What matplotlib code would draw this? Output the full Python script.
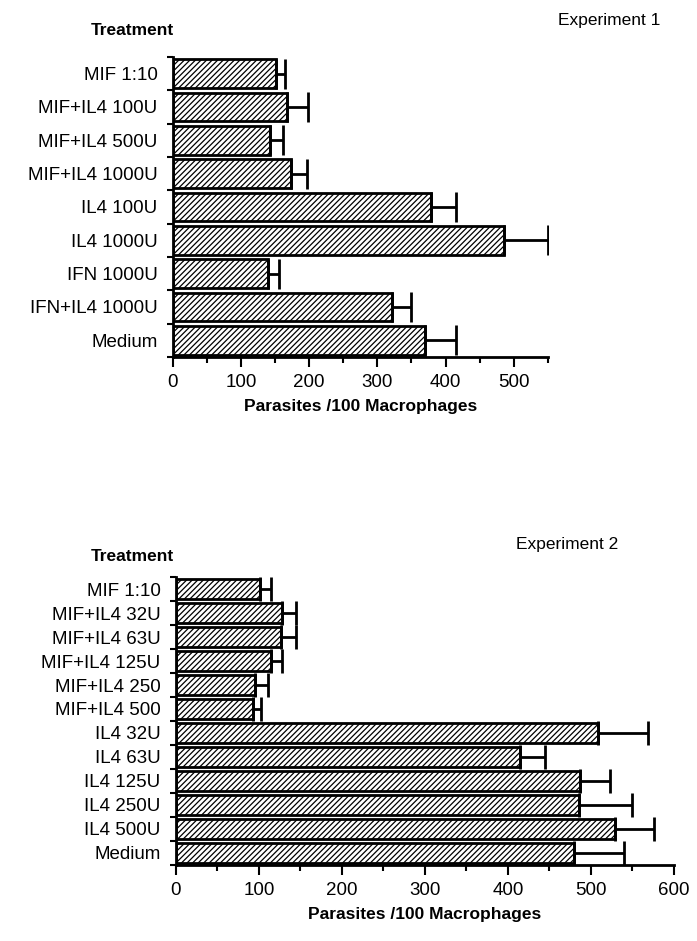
import numpy as np
import matplotlib.pyplot as plt

plt.rcParams['font.family'] = ['Liberation Sans', 'DejaVu Sans']
plt.rcParams['hatch.linewidth'] = 0.9

# Experiment 1
labels1 = ['MIF 1:10', 'MIF+IL4 100U', 'MIF+IL4 500U', 'MIF+IL4 1000U', 'IL4 100U',
           'IL4 1000U', 'IFN 1000U', 'IFN+IL4 1000U', 'Medium']
values1 = [151, 168, 142, 173, 379, 485, 140, 322, 370]
errors1 = [14, 30, 20, 24, 37, 65, 15, 28, 45]

# Experiment 2
labels2 = ['MIF 1:10', 'MIF+IL4 32U', 'MIF+IL4 63U', 'MIF+IL4 125U', 'MIF+IL4 250',
           'MIF+IL4 500', 'IL4 32U', 'IL4 63U', 'IL4 125U', 'IL4 250U', 'IL4 500U', 'Medium']
values2 = [101, 128, 126, 114, 95, 93, 509, 415, 487, 485, 529, 480]
errors2 = [13, 16, 18, 14, 16, 10, 60, 29, 36, 64, 47, 60]


def draw_panel(ax, labels, values, errors, xmax, bar_h, cap):
    n = len(labels)
    y = np.arange(n)
    ax.barh(y, values, height=bar_h, color='white', edgecolor='black',
            linewidth=2, hatch='//////', zorder=2)
    ax.errorbar(values, y, xerr=[np.zeros(n), errors], fmt='none',
                ecolor='black', elinewidth=2, capsize=cap, capthick=2, zorder=3)
    ax.set_ylim(n - 0.5, -0.5)
    ax.set_xlim(0, xmax)
    ax.set_yticks(y)
    ax.set_yticklabels(labels, fontsize=13.5)
    ax.set_yticks(np.arange(n + 1) - 0.5, minor=True)
    ax.tick_params(axis='y', which='major', length=0, pad=11)
    ax.tick_params(axis='y', which='minor', length=4, width=1.5, direction='out')
    ax.set_xticks(np.arange(0, xmax + 1, 100))
    ax.set_xticks(np.arange(0, xmax + 1, 50), minor=True)
    ax.tick_params(axis='x', which='major', length=7, width=1.5, labelsize=13.5, pad=5)
    ax.tick_params(axis='x', which='minor', length=4, width=1.5)
    ax.spines['top'].set_visible(False)
    ax.spines['right'].set_visible(False)
    ax.spines['left'].set_linewidth(2)
    ax.spines['bottom'].set_linewidth(2)
    ax.set_xlabel('Parasites /100 Macrophages', fontsize=12.5, fontweight='bold', labelpad=6)


fig = plt.figure(figsize=(6.97, 9.41), dpi=100)

ax1 = fig.add_axes([0.248, 0.6206, 0.538, 0.319])
draw_panel(ax1, labels1, values1, errors1, 550, 0.86, 11)
fig.text(0.13, 0.968, 'Treatment', fontsize=12.5, fontweight='bold', va='center')
fig.text(0.80, 0.978, 'Experiment 1', fontsize=12.5, va='center')

ax2 = fig.add_axes([0.2525, 0.0808, 0.7145, 0.306])
draw_panel(ax2, labels2, values2, errors2, 600, 0.8, 8.5)
fig.text(0.13, 0.409, 'Treatment', fontsize=12.5, fontweight='bold', va='center')
fig.text(0.74, 0.421, 'Experiment 2', fontsize=12.5, va='center')

fig.savefig('out.png', dpi=100)
